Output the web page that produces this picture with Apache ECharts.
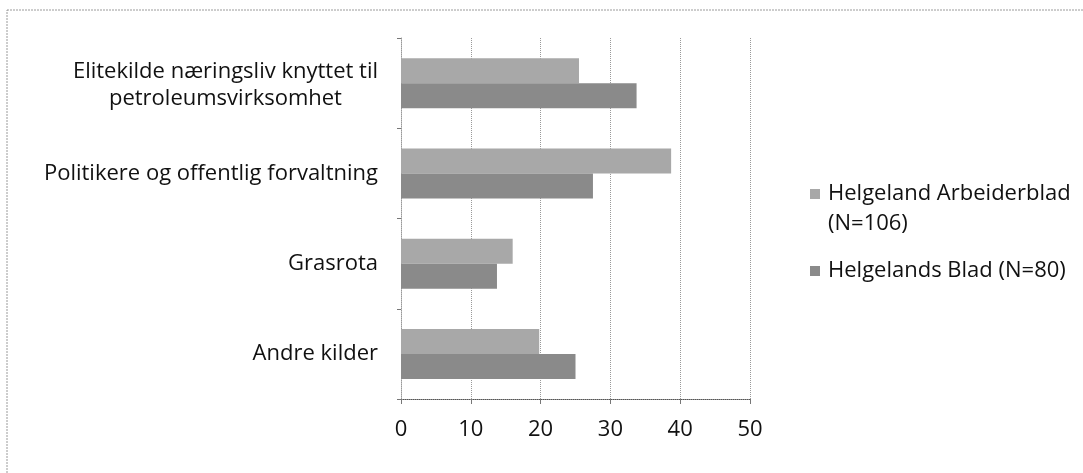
<!DOCTYPE html>
<html>
<head>
<meta charset="utf-8">
<script src="https://cdn.jsdelivr.net/npm/echarts@6/dist/echarts.min.js"></script>
<style>
  html, body { margin: 0; padding: 0; background: #fff; }
  #chart { width: 1083px; height: 473px; }
</style>
</head>
<body>
<div id="chart"></div>
<script>
// categories listed bottom-to-top, as the category axis draws them
var categories = ['Andre kilder', 'Grasrota', 'Politikere og offentlig forvaltning', 'Elitekilde næringsliv knyttet til\npetroleumsvirksomhet']
var seriesNames = ['Helgeland Arbeiderblad (N=106)', 'Helgelands Blad (N=80)']
var arbeiderblad = [19.8, 16.0, 38.7, 25.5]
var helgelandsBlad = [25.0, 13.75, 27.5, 33.75]
var xTicks = [0, 10, 20, 30, 40, 50]

var font = 'Open Sans'
var myChart = echarts.init(document.getElementById('chart'))

myChart.setOption({
  animation: false,
  textStyle: { fontFamily: font, color: '#111' },
  graphic: [{
    type: 'rect',
    shape: { x: 7, y: 10, width: 1100, height: 480 },
    style: { fill: 'none', stroke: '#9a9a9a', lineWidth: 1, lineDash: [2, 1] }
  }],
  legend: {
    orient: 'vertical',
    left: 805,
    top: 144,
    itemWidth: 10,
    itemHeight: 10,
    itemGap: 17,
    icon: 'rect',
    data: seriesNames,
    // blank first line keeps the marker level with the first text line
    formatter: function (name) {
      if (name === seriesNames[0]) return ' \nHelgeland Arbeiderblad\n(N=106)'
      return name
    },
    textStyle: { fontSize: 22, color: '#111', lineHeight: 30, fontFamily: font, padding: [0, 0, 0, 3] }
  },
  grid: { left: 401, right: 333, top: 38, bottom: 74 },
  xAxis: {
    type: 'value',
    min: xTicks[0],
    max: xTicks[xTicks.length - 1],
    interval: 10,
    axisLine: { show: true, lineStyle: { color: '#555', type: 'dotted', width: 1 } },
    axisTick: { show: true, length: 5, lineStyle: { color: '#777' } },
    splitLine: { show: true, lineStyle: { color: '#999', type: 'dotted' } },
    axisLabel: { fontSize: 22, color: '#111', margin: 20, fontFamily: font }
  },
  yAxis: {
    type: 'category',
    data: categories,
    axisLine: { show: true, lineStyle: { color: '#999', type: 'dotted' } },
    axisTick: { show: true, length: 4, lineStyle: { color: '#777' } },
    axisLabel: {
      margin: 23,
      fontSize: 22,
      color: '#111',
      formatter: function (v) {
        var lines = v.split('\n')
        if (lines.length === 1) return '{a|' + v + '}'
        // wrapped label sits a little low in the original
        return '{t|' + lines[0] + '}\n{a|' + lines.slice(1).join('}\n{a|') + '}'
      },
      rich: {
        a: { fontSize: 22, lineHeight: 31, align: 'center', color: '#111', fontFamily: font },
        t: { fontSize: 22, lineHeight: 31, align: 'center', color: '#111', fontFamily: font, padding: [8, 0, 0, 0] }
      }
    }
  },
  series: [
    {
      name: seriesNames[0],
      type: 'bar',
      data: arbeiderblad,
      barWidth: 25,
      barGap: '0%',
      itemStyle: { color: '#a8a8a8' }
    },
    {
      name: seriesNames[1],
      type: 'bar',
      data: helgelandsBlad,
      barWidth: 25,
      barGap: '0%',
      itemStyle: { color: '#8a8a8a' }
    }
  ]
})
</script>
</body>
</html>
